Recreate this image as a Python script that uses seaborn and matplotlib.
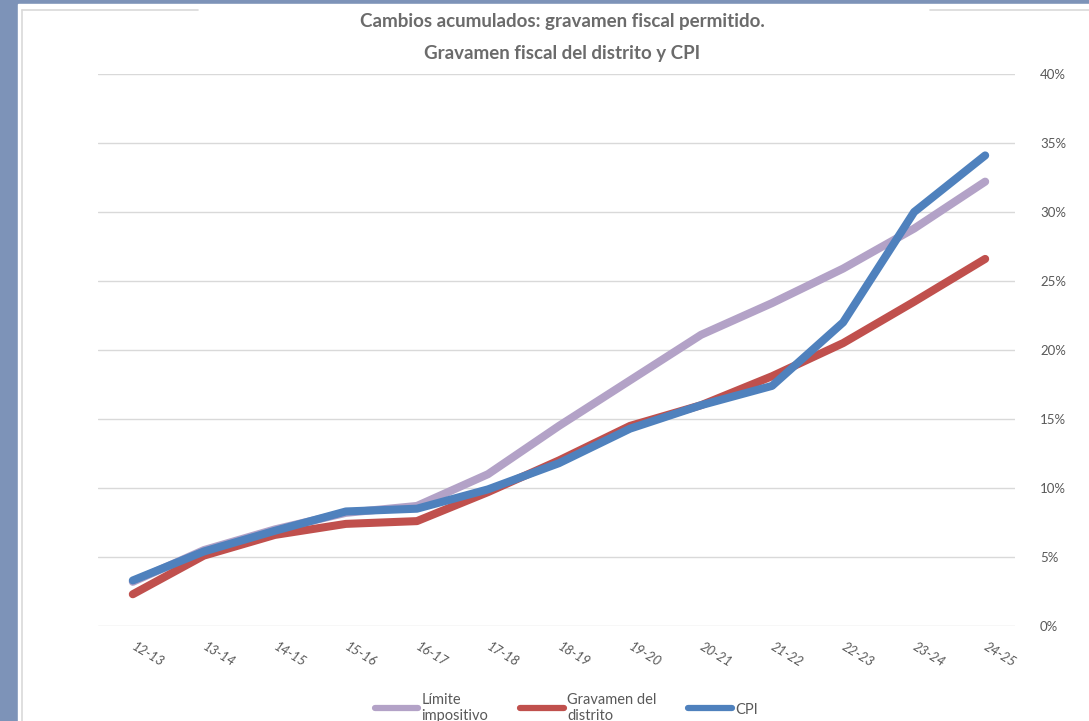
import numpy as np
import pandas as pd
import matplotlib
matplotlib.use("Agg")
import matplotlib.pyplot as plt
import seaborn as sns
from matplotlib.lines import Line2D
from matplotlib.patches import Rectangle

# ==========================================
# 1. Data
# ==========================================
years = ["12-13", "13-14", "14-15", "15-16", "16-17", "17-18", "18-19",
         "19-20", "20-21", "21-22", "22-23", "23-24", "24-25"]
limite = [3.2, 5.5, 7.0, 8.2, 8.7, 11.0, 14.5, 17.8, 21.1, 23.4, 25.9, 28.8, 32.2]
gravamen = [2.3, 5.1, 6.6, 7.4, 7.6, 9.7, 12.0, 14.5, 16.0, 18.1, 20.5, 23.5, 26.6]
cpi = [3.3, 5.4, 6.9, 8.3, 8.5, 9.9, 11.8, 14.3, 16.0, 17.4, 22.0, 30.0, 34.1]

series_names = ["Límite impositivo", "Gravamen del distrito", "CPI"]
legend_labels = ["Límite\nimpositivo", "Gravamen del\ndistrito", "CPI"]
colors = ["#b3a2c7", "#c0504d", "#4f81bd"]
y_ticks = [0, 5, 10, 15, 20, 25, 30, 35, 40]

df = pd.DataFrame({
    "year": years * 3,
    "value": limite + gravamen + cpi,
    "series": np.repeat(series_names, len(years)),
})

# ==========================================
# 2. Figure and background
# ==========================================
sns.set_style("white")
plt.rcParams["font.family"] = ["Lato", "DejaVu Sans"]

fig = plt.figure(figsize=(10.89, 7.21), dpi=100)
fig.patch.set_facecolor("#7d93b8")
fig.add_artist(Rectangle((18 / 1089, 0), 1, (721 - 4) / 721,
                         transform=fig.transFigure, color="white", zorder=0))
# partial frame around the chart area
frame_kw = dict(transform=fig.transFigure, color="#d9d9d9", lw=1.2, zorder=1)
fig.add_artist(Line2D([22 / 1089, 22 / 1089], [0, 1 - 10 / 721], **frame_kw))
fig.add_artist(Line2D([22 / 1089, 198 / 1089], [1 - 10 / 721, 1 - 10 / 721], **frame_kw))
fig.add_artist(Line2D([930 / 1089, 1], [1 - 10 / 721, 1 - 10 / 721], **frame_kw))

ax = fig.add_axes([98 / 1089, 95 / 721, 917 / 1089, 552 / 721])
ax.set_facecolor("none")

# ==========================================
# 3. Lines
# ==========================================
sns.lineplot(data=df, x="year", y="value", hue="series", hue_order=series_names,
             palette=colors, linewidth=5.8, sort=False, legend=False, ax=ax,
             solid_capstyle="round")

ax.set_xlim(-0.49, 12.42)
ax.set_ylim(0, 40)
ax.set_yticks(y_ticks)
ax.set_yticklabels([f"{t}%" for t in y_ticks])
ax.yaxis.tick_right()
ax.grid(axis="y", color="#d9d9d9", lw=1)
ax.set_axisbelow(True)
for s in ax.spines.values():
    s.set_visible(False)
ax.tick_params(axis="both", length=0, colors="#595959", labelsize=9.5)
ax.tick_params(axis="y", pad=18)
ax.set_xlabel("")
ax.set_ylabel("")
for lbl in ax.get_xticklabels():
    lbl.set_rotation(-31)
    lbl.set_ha("left")
    lbl.set_va("center")
    lbl.set_rotation_mode("anchor")
    lbl.set_fontstyle("italic")
ax.tick_params(axis="x", pad=14)

fig.text(0.516, 1 - 21 / 721, "Cambios acumulados: gravamen fiscal permitido.",
         ha="center", va="center", fontsize=13.5, fontweight="bold", color="#6b6b6b")
fig.text(0.516, 1 - 53 / 721, "Gravamen fiscal del distrito y CPI",
         ha="center", va="center", fontsize=13.5, fontweight="bold", color="#6b6b6b")

handles = [Line2D([], [], color=c, lw=4.5) for c in colors]
fig.legend(handles, legend_labels, loc="center", bbox_to_anchor=(0.52, 0.018),
           ncol=3, frameon=False, fontsize=10.5, labelcolor="#595959",
           handlelength=3.0, handletextpad=0.2, columnspacing=2.2)

fig.savefig("out.png", dpi=100, facecolor=fig.get_facecolor())
plt.close(fig)
